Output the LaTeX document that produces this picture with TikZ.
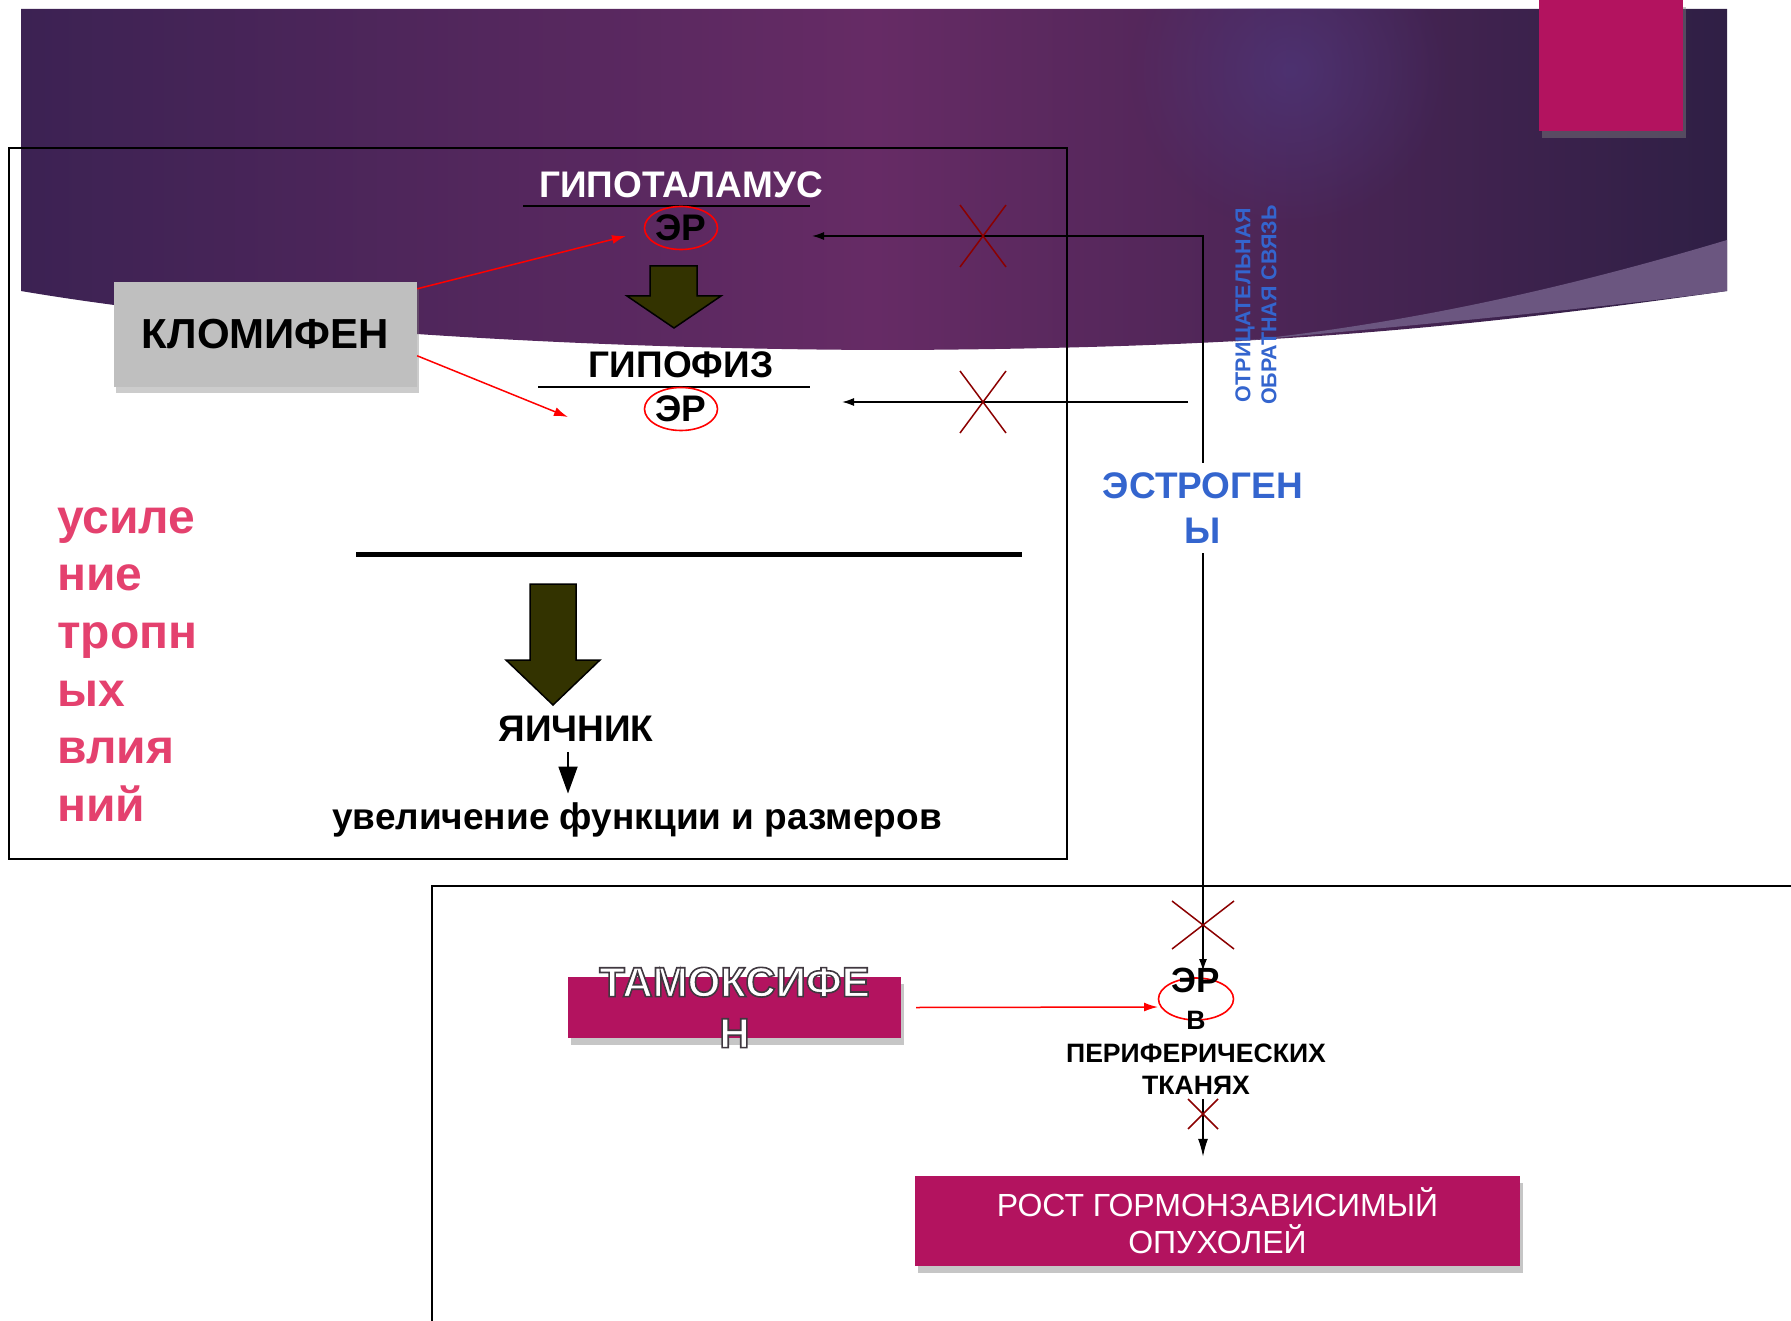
\documentclass[tikz,border=0pt]{standalone}
\usepackage{fontspec}
\setmainfont{Liberation Sans}
\usetikzlibrary{arrows.meta,shapes.geometric,shadows,calc,fadings}
\definecolor{magn}{HTML}{B3135F}
\definecolor{pinkt}{HTML}{E4416E}
\definecolor{bluet}{HTML}{3465CE}
\definecolor{crossc}{HTML}{8B0000}
\definecolor{olivea}{HTML}{333300}
\definecolor{purL}{HTML}{3C2253}
\definecolor{purM}{HTML}{662B65}
\definecolor{purR}{HTML}{2F1F45}
\definecolor{lilac}{HTML}{6B5680}
\definecolor{hilite}{HTML}{4E3A82}
\tikzfading[name=radfade, inner color=transparent!0, outer color=transparent!100]
\newcommand\myfs[2]{\fontsize{#1}{#2}\selectfont}
\newcommand\glowon{\special{pdf:literal direct 2 Tr 1.6 w 0.25 0.22 0.25 RG}}
\newcommand\glowoff{\special{pdf:literal direct 0 Tr}}
\begin{document}
\begin{tikzpicture}[x=1pt,y=-1pt,
  txtB/.style={font=\bfseries\myfs{37}{44}, inner sep=0pt},
  txtW/.style={txtB, text=white},
  erell/.style={ellipse, draw=red, line width=1.6pt, minimum width=73pt, minimum height=43pt, inner sep=0pt},
  uline/.style={line width=2.2pt},
  frame/.style={line width=1.5pt},
  blk/.style={line width=1.5pt, -{Latex[length=12pt,width=8pt]}},
  redarr/.style={red, line width=1.5pt, -{Latex[length=14pt,width=9pt]}},
  xcr/.style={crossc, line width=1.5pt},
  blockarr/.style={fill=olivea, draw=black, line width=1.5pt},
  magbox/.style={rectangle, fill=magn, inner sep=0pt, drop shadow={opacity=0.45, shadow xshift=3pt, shadow yshift=-7pt}},
]
\useasboundingbox (0,0) rectangle (1791,1321);
% background band
\shade[left color=purL, right color=purR, middle color=purM]
  (21,9) -- (1727,9) -- (1727,291) .. controls (1450,330) and (1250,348) .. (900,350)
  .. controls (600,350) and (250,330) .. (21,291) -- cycle;
\begin{scope}
\clip (21,9) rectangle (1727,250);
\fill[hilite, opacity=0.6, path fading=radfade] (1290,70) circle (160);
\end{scope}
\fill[lilac] (1727,240) .. controls (1560,290) and (1400,325) .. (1230,342)
  .. controls (1420,325) and (1600,308) .. (1727,291) -- cycle;
% top-right magenta block
\node[magbox, minimum width=144pt, minimum height=131pt] (topbox) at (1611,65.5) {};
% frames
\draw[frame] (9,148) rectangle (1067,859);
\draw[frame] (432,1321) -- (432,886) -- (1791,886);

% hypothalamus
\node[txtW] (hypo) at (681,185) {ГИПОТАЛАМУС};
\draw[uline] (523,206) -- (810,206);
\node[erell, txtB] (er1) at (681,228) {ЭР};
\draw[blockarr] (650,266) -- (697,266) -- (697,296) -- (721,296) -- (674,328) -- (627,296) -- (650,296) -- cycle;
% pituitary
\node[txtB] (hypoph) at (681,365) {ГИПОФИЗ};
\draw[uline] (538,387) -- (810,387);
\node[erell, txtB] (er2) at (681,409) {ЭР};

% clomiphene
\node[rectangle, fill=black!25, minimum width=303pt, minimum height=105pt, inner sep=0pt,
  font=\bfseries\myfs{42}{50}, drop shadow={opacity=0.4, shadow xshift=2pt, shadow yshift=-6pt}] (klom) at (265.5,334.5) {КЛОМИФЕН};
\coordinate (kt1) at (626,236);
\coordinate (kt2) at (568,417);
\draw[redarr] ($(klom.north east)+(0,7)$) -- (kt1);
\draw[redarr] ($(klom.north east)+(0,74)$) -- (kt2);

% estrogens and feedback
\node[font=\bfseries\myfs{37}{45}, text=bluet, align=center, minimum height=90pt, inner sep=0pt] (estr) at (1203,508) {ЭСТРОГЕН\\Ы};
\node[font=\bfseries\myfs{21.5}{26}, text=bluet, align=center, rotate=90, inner sep=0pt] (neg) at (1256,305) {ОТРИЦАТЕЛЬНАЯ\\ОБРАТНАЯ СВЯЗЬ};
\coordinate (t1) at (812,236);
\coordinate (s2) at (1188,402);
\coordinate (t2) at (842,402);
\coordinate (t3) at (1203,971);
\draw[blk] (estr.north) |- (t1);
\draw[blk] (s2) -- (t2);
\draw[blk] (estr.south) -- (t3);
% crosses
\draw[xcr] (960,205) -- (1006,267) (960,267) -- (1006,205);
\draw[xcr] (960,371) -- (1006,433) (960,433) -- (1006,371);
\draw[xcr] (1172,901) -- (1234,949) (1172,949) -- (1234,901);

% left pink text
\node[font=\bfseries\myfs{48}{57.7}, text=pinkt, align=left, anchor=north west, inner sep=0pt] (pinktxt) at (57,507)
  {усиле\\ние\\тропн\\ых\\влия\\ний};
\draw[line width=5pt] (356,554) -- (1022,554);
\draw[blockarr] (530,584) -- (576,584) -- (576,660) -- (600,660) -- (553,705) -- (506,660) -- (530,660) -- cycle;
\node[txtB] (ovary) at (576,729) {ЯИЧНИК};
\node[font=\bfseries\myfs{37}{44}, inner sep=0pt] (func) at (637,820) {увеличение функции и размеров};
\draw[line width=1.8pt, -{Triangle[length=27pt,width=19pt]}] ([xshift=-8pt,yshift=-10pt]ovary.south) -- ([xshift=-69pt,yshift=9pt]func.north);

% tamoxifen part
\node[magbox, minimum width=333pt, minimum height=61pt,
  label={[font=\bfseries\myfs{42}{51}, text=white, align=center, inner sep=0pt]center:{\glowon ТАМОКСИФЕ\\Н\glowoff}}] (tambox) at (734.5,1007.5) {};
\node[ellipse, draw=red, line width=1.6pt, minimum width=75pt, minimum height=42pt, inner sep=0pt] (er3) at (1196,999) {};
\coordinate (t4) at (1158,1007);
\draw[redarr] ([xshift=15pt]tambox.east) -- (t4);
\node[txtB, font=\bfseries\myfs{35}{40}] (er3t) at (1196,980) {ЭР};
\node[font=\bfseries\myfs{26.6}{32.5}, align=center, inner sep=0pt] (tis) at (1196,1053) {В\\ПЕРИФЕРИЧЕСКИХ\\ТКАНЯХ};
\node[magbox, minimum width=605pt, minimum height=90pt, text=white, align=center, font=\myfs{32}{37}] (rost) at (1217.5,1221) {РОСТ ГОРМОНЗАВИСИМЫЙ\\ОПУХОЛЕЙ};
\draw[line width=1.5pt, -{Latex[length=18pt,width=10pt]}] ($(tis.south -| estr.south)+(0,4)$) -- ($(rost.north -| estr.south)+(0,-19)$);
\draw[xcr] (1188,1099) -- (1218,1129) (1188,1129) -- (1218,1099);
\end{tikzpicture}
\end{document}
